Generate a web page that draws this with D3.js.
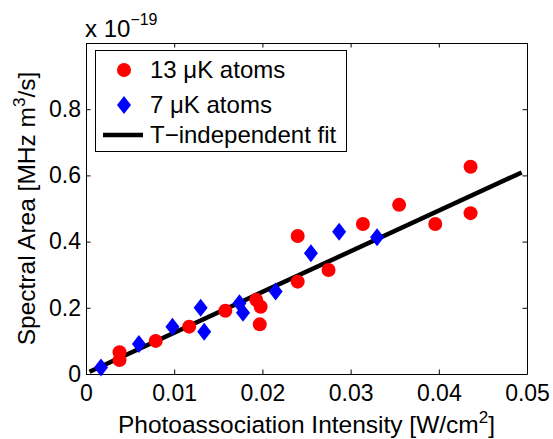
<!DOCTYPE html>
<html><head><meta charset="utf-8">
<script src="https://cdn.jsdelivr.net/npm/d3@7"></script>
<style>
html,body{margin:0;padding:0;background:#fff;}
svg{display:block;}
text{font-family:"Liberation Sans",Arial,Helvetica,sans-serif;fill:#000;}
</style></head>
<body>
<script>
// ---- data (units: x in W/cm^2, y in 1e-19 MHz m^3/s) ----
const hotX = [0.0038,0.0038,0.0079,0.0117,0.0158,0.0193,0.0198,0.0197,0.0240,0.0240,0.0275,0.0314,0.0355,0.0396,0.0436,0.0436];
const hotY = [0.066,0.042,0.100,0.143,0.191,0.224,0.203,0.150,0.279,0.417,0.314,0.453,0.511,0.453,0.626,0.486];
const coldX = [0.0017,0.0060,0.0098,0.0130,0.0134,0.0174,0.0178,0.0215,0.0255,0.0287,0.0330];
const coldY = [0.020,0.091,0.143,0.200,0.128,0.214,0.185,0.249,0.365,0.430,0.413];
const fitX = [0.0004,0.0494];
const fitY = [0.007,0.609];
const xTicks = [0,0.01,0.02,0.03,0.04,0.05];
const xTickLabels = ["0","0.01","0.02","0.03","0.04","0.05"];
const yTicks = [0,0.2,0.4,0.6,0.8];
const yTickLabels = ["0","0.2","0.4","0.6","0.8"];
const legendLabels = ["13 \u03bcK atoms","7 \u03bcK atoms","T\u2212independent fit"];

const W = 553, H = 439;
const L = 86, T = 43, PW = 441, PH = 331;
const FS = 23, LFS = 24.5, GFS = 24;

const svg = d3.select("body").append("svg").attr("width",W).attr("height",H);
const x = d3.scaleLinear().domain([0,0.05]).range([L, L+PW]);
const y = d3.scaleLinear().domain([0,1]).range([T+PH, T]);

function styleAxis(g){
  g.selectAll("path.domain").attr("stroke","#000").attr("stroke-width",1);
  g.selectAll(".tick line").attr("stroke","#000").attr("stroke-width",1);
  g.selectAll("text").attr("font-size",FS).attr("font-family","Liberation Sans, Arial, sans-serif").attr("fill","#000");
}
const tk = 4.5;
svg.append("g").attr("transform",`translate(0,${T+PH})`)
  .call(d3.axisBottom(x).tickValues(xTicks).tickFormat((d,i)=>xTickLabels[i]).tickSizeInner(-tk).tickSizeOuter(0).tickPadding(11))
  .call(styleAxis);
svg.append("g").attr("transform",`translate(0,${T})`)
  .call(d3.axisTop(x).tickValues(xTicks).tickFormat("").tickSizeInner(-tk).tickSizeOuter(0))
  .call(styleAxis);
svg.append("g").attr("transform",`translate(${L},0)`)
  .call(d3.axisLeft(y).tickValues(yTicks).tickFormat((d,i)=>yTickLabels[i]).tickSizeInner(-tk).tickSizeOuter(0).tickPadding(5))
  .call(styleAxis);
svg.append("g").attr("transform",`translate(${L+PW},0)`)
  .call(d3.axisRight(y).tickValues(yTicks).tickFormat("").tickSizeInner(-tk).tickSizeOuter(0))
  .call(styleAxis);

// fit line
svg.append("path")
  .datum(fitX.map((v,i)=>[v,fitY[i]]))
  .attr("d", d3.line().x(d=>x(d[0])).y(d=>y(d[1])))
  .attr("stroke","#000").attr("stroke-width",4.5).attr("fill","none");

// red circles
svg.append("g").selectAll("circle").data(hotX.map((v,i)=>[v,hotY[i]])).join("circle")
  .attr("cx",d=>x(d[0])).attr("cy",d=>y(d[1])).attr("r",7).attr("fill","#ff0000");

// blue diamonds
const dia = (cx,cy)=>`M${cx},${cy-9}L${cx+7},${cy}L${cx},${cy+9}L${cx-7},${cy}Z`;
svg.append("g").selectAll("path").data(coldX.map((v,i)=>[v,coldY[i]])).join("path")
  .attr("d",d=>dia(x(d[0]),y(d[1]))).attr("fill","#0000ff");

// legend
const lg = svg.append("g");
lg.append("rect").attr("x",95.5).attr("y",50.5).attr("width",251).attr("height",101)
  .attr("fill","#fff").attr("stroke","#000").attr("stroke-width",1);
lg.append("circle").attr("cx",124).attr("cy",70).attr("r",7).attr("fill","#ff0000");
lg.append("path").attr("d",dia(124,105)).attr("fill","#0000ff");
lg.append("line").attr("x1",103).attr("x2",143).attr("y1",135).attr("y2",135).attr("stroke","#000").attr("stroke-width",4.5);
const ly = [70,105,135];
legendLabels.forEach((t,i)=>{
  lg.append("text").attr("x",150).attr("y",ly[i]).attr("dy","0.35em").attr("font-size",GFS).text(t);
});

// exponent label
const ex = svg.append("text").attr("x",85).attr("y",37).attr("font-size",FS+1);
ex.append("tspan").text("x 10");
ex.append("tspan").attr("dy",-12).attr("font-size",16).text("\u221219");

// x label
const xl = svg.append("text").attr("x",L+PW/2).attr("y",433).attr("text-anchor","middle").attr("font-size",LFS);
xl.append("tspan").text("Photoassociation Intensity [W/cm");
xl.append("tspan").attr("dy",-10).attr("font-size",17).text("2");
xl.append("tspan").attr("dy",10).text("]");

// y label
const yl = svg.append("text").attr("transform",`translate(35,${T+PH/2}) rotate(-90)`).attr("text-anchor","middle").attr("font-size",LFS);
yl.append("tspan").text("Spectral Area [MHz m");
yl.append("tspan").attr("dy",-10).attr("font-size",17).text("3");
yl.append("tspan").attr("dy",10).text("/s]");
</script>
</body></html>
